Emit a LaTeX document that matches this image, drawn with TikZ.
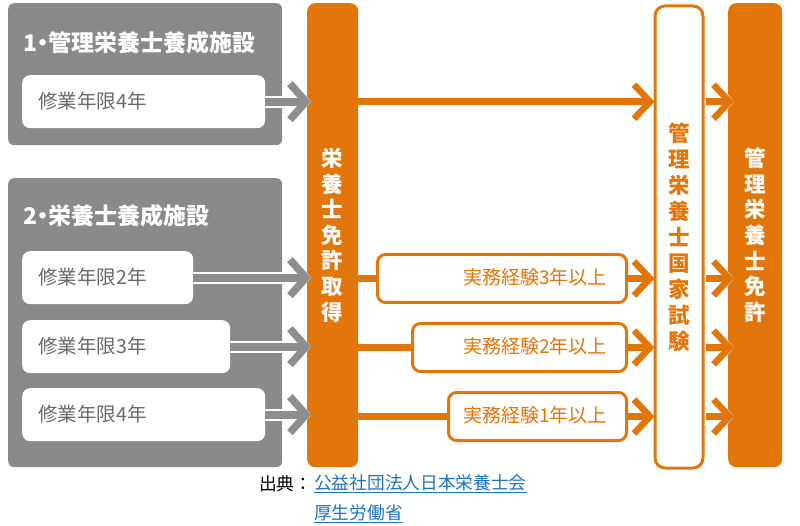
\documentclass[tikz,border=0pt]{standalone}
\usepackage{fontspec}
\newfontfamily\jp{Noto Sans CJK JP}
\usetikzlibrary{arrows.meta}
\definecolor{org}{HTML}{E2760A}
\definecolor{gbox}{HTML}{8A8A8A}
\definecolor{garr}{HTML}{8E8E8E}
\definecolor{gtxt}{HTML}{6A6A6A}
\definecolor{lnk}{HTML}{1E73BE}
\begin{document}
\begin{tikzpicture}[x=1pt,y=-1pt,
  panel/.style={fill=gbox, rounded corners=6pt, anchor=north west, minimum width=274pt, inner sep=0pt},
  ptitle/.style={anchor=west, text=white, inner sep=0pt, font={\jp\bfseries\fontsize{23}{26}\selectfont}},
  wbox/.style={fill=white, rounded corners=8pt, anchor=north west, minimum height=53pt, inner sep=0pt},
  wtext/.style={anchor=west, text=gtxt, inner sep=0pt, font={\jp\fontsize{19.5}{22}\selectfont}},
  obar/.style={fill=org, rounded corners=8pt, anchor=north west, minimum height=464pt, inner sep=0pt, text=white, align=center, font={\jp\bfseries\fontsize{21.5}{25.6}\selectfont}},
  wbar/.style={fill=white, draw=org, line width=3pt, rounded corners=10pt, anchor=north west, minimum height=462pt, inner sep=0pt, text=org, align=center, font={\jp\bfseries\fontsize{21.5}{26}\selectfont}},
  ebox/.style={fill=white, draw=org, line width=3pt, rounded corners=8pt, anchor=north west, minimum height=48pt, inner sep=0pt},
  etext/.style={anchor=east, text=org, inner sep=0pt, font={\jp\fontsize{19}{22}\selectfont}},
  garrow/.style={preaction={draw=white, line width=12pt, -{Straight Barb[sharp, length=16pt, width=40pt, line width=11pt]}},
                 draw=garr, line width=8pt, -{Straight Barb[sharp, length=16pt, width=36pt, line width=7.5pt]}},
  oarrow/.style={draw=org, line width=6.5pt, -{Straight Barb[sharp, length=16pt, width=34pt, line width=6.5pt]}},
  owarrow/.style={preaction={draw=white, line width=10pt, -{Straight Barb[sharp, length=16pt, width=38pt, line width=10pt]}}, oarrow},
  oline/.style={draw=org, line width=6.5pt},
  captxt/.style={anchor=west, inner sep=0pt, font={\jp\fontsize{17.7}{20}\selectfont}}
]
\useasboundingbox (0,0) rectangle (800,526);

% left panels
\node[panel, minimum height=142pt] (p1) at (8,3) {};
\node[ptitle] (t1) at (23,43) {1\kern-6pt・\kern-6pt管理栄養士養成施設};
\node[wbox, minimum width=243pt] (a4) at (22,75) {};
\node[wtext] at (38,101.5) {修業年限4年};

\node[panel, minimum height=289pt] (p2) at (8,178) {};
\node[ptitle] (t2) at (23,216) {2\kern-6pt・\kern-6pt栄養士養成施設};
\node[wbox, minimum width=171pt] (b2) at (22,251) {};
\node[wtext] at (38,277.5) {修業年限2年};
\node[wbox, minimum width=208pt] (b3) at (22,320) {};
\node[wtext] at (38,346.5) {修業年限3年};
\node[wbox, minimum width=243pt] (b4) at (22,388) {};
\node[wtext] at (38,414.5) {修業年限4年};

% bars
\node[obar, minimum width=51pt] (bar1) at (307,3) {栄\\養\\士\\免\\許\\取\\得};
\node[wbar, minimum width=48pt] (bar2) at (653.5,4.5) {管\\理\\栄\\養\\士\\国\\家\\試\\験};
\node[obar, minimum width=54pt] (bar3) at (728,3) {管\\理\\栄\\養\\士\\免\\許};

% experience boxes
\node[ebox, minimum width=249pt] (e3) at (376,253) {};
\node[etext] at (607,277) {実務経験3年以上};
\node[ebox, minimum width=214pt] (e2) at (411,322) {};
\node[etext] at (607,346) {実務経験2年以上};
\node[ebox, minimum width=178pt] (e1) at (447,391) {};
\node[etext] at (607,415) {実務経験1年以上};

% gray arrows
\draw[garrow] (a4.east) -- ([xshift=4pt]bar1.west |- a4.east);
\draw[garrow] (b2.east) -- ([xshift=4pt]bar1.west |- b2.east);
\draw[garrow] (b3.east) -- ([xshift=4pt]bar1.west |- b3.east);
\draw[garrow] (b4.east) -- ([xshift=4pt]bar1.west |- b4.east);

% orange connectors
\draw[oarrow] (bar1.east |- a4.east) -- ([xshift=1pt]bar2.west |- a4.east);
\draw[oline] (bar1.east |- e3.west) -- (e3.west);
\draw[oline] (bar1.east |- e2.west) -- (e2.west);
\draw[oline] (bar1.east |- e1.west) -- (e1.west);
\draw[oarrow] (e3.east) -- ([xshift=1pt]bar2.west |- e3.east);
\draw[oarrow] (e2.east) -- ([xshift=1pt]bar2.west |- e2.east);
\draw[oarrow] (e1.east) -- ([xshift=1pt]bar2.west |- e1.east);

\draw[owarrow] ([xshift=1.5pt]bar2.east |- a4.east) -- ([xshift=6pt]bar3.west |- a4.east);
\draw[owarrow] ([xshift=1.5pt]bar2.east |- e3.east) -- ([xshift=6pt]bar3.west |- e3.east);
\draw[owarrow] ([xshift=1.5pt]bar2.east |- e2.east) -- ([xshift=6pt]bar3.west |- e2.east);
\draw[owarrow] ([xshift=1.5pt]bar2.east |- e1.east) -- ([xshift=6pt]bar3.west |- e1.east);

% caption
\node[captxt] (src) at (259,484) {出典：};
\node[captxt, text=lnk] (l1) at (314,484) {\underline{公益社団法人日本栄養士会}};
\node[captxt, text=lnk] (l2) at (314,514) {\underline{厚生労働省}};
\end{tikzpicture}
\end{document}
